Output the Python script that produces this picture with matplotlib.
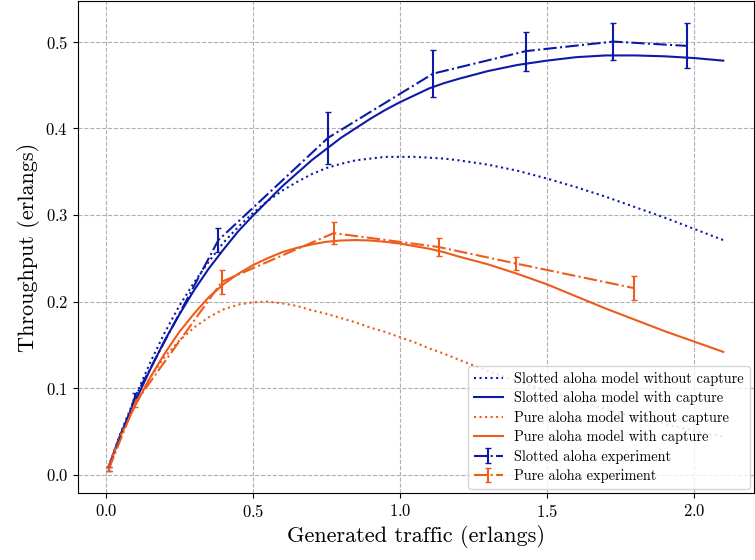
import matplotlib
matplotlib.use("Agg")
import matplotlib.pyplot as plt

plt.rcParams["font.family"] = "serif"
plt.rcParams["font.serif"] = ["cmr10", "DejaVu Serif"]
plt.rcParams["mathtext.fontset"] = "cm"
plt.rcParams["axes.formatter.use_mathtext"] = True

# Model curves
g_model = [0.01, 0.05, 0.1, 0.15, 0.2, 0.25, 0.3, 0.35, 0.4, 0.45, 0.5, 0.55, 0.6,
           0.65, 0.7, 0.75, 0.8, 0.85, 0.9, 0.95, 1.0, 1.05, 1.1, 1.15, 1.2,
           1.3, 1.4, 1.5, 1.6, 1.7, 1.8, 1.9, 2.0, 2.1]
slotted_no_cap = [0.01, 0.048, 0.09, 0.129, 0.164, 0.195, 0.222, 0.246, 0.268, 0.286, 0.302,
                  0.316, 0.328, 0.338, 0.347, 0.354, 0.359, 0.363, 0.365, 0.367, 0.367, 0.367,
                  0.366, 0.365, 0.363, 0.358, 0.351, 0.342, 0.332, 0.321, 0.309, 0.297, 0.284, 0.271]
slotted_cap = [0.01, 0.047, 0.085, 0.121, 0.155, 0.185, 0.213, 0.238, 0.260, 0.281, 0.299,
               0.316, 0.333, 0.348, 0.363, 0.376, 0.389, 0.400, 0.411, 0.421, 0.430, 0.438,
               0.446, 0.452, 0.457, 0.466, 0.473, 0.478, 0.482, 0.484, 0.484, 0.483, 0.481, 0.478]
pure_no_cap = [0.01, 0.045, 0.082, 0.112, 0.136, 0.155, 0.170, 0.182, 0.191, 0.1965, 0.1992,
               0.2, 0.198, 0.195, 0.190, 0.186, 0.181, 0.176, 0.170, 0.165, 0.159, 0.153,
               0.146, 0.14, 0.133, 0.12, 0.108, 0.097, 0.086, 0.076, 0.067, 0.059, 0.051, 0.044]
pure_cap = [0.01, 0.045, 0.08, 0.112, 0.14, 0.165, 0.186, 0.205, 0.220, 0.232, 0.242,
            0.250, 0.257, 0.262, 0.266, 0.269, 0.2705, 0.271, 0.2705, 0.269, 0.267, 0.264,
            0.261, 0.257, 0.252, 0.243, 0.232, 0.220, 0.206, 0.192, 0.179, 0.166, 0.154, 0.142]

# Experiments
g_slotted_exp = [0.01, 0.1, 0.383, 0.756, 1.113, 1.429, 1.726, 1.977]
s_slotted_exp = [0.007, 0.09, 0.271, 0.389, 0.463, 0.489, 0.500, 0.495]
err_slotted_exp = [0.002, 0.004, 0.0135, 0.03, 0.027, 0.0225, 0.021, 0.026]

g_pure_exp = [0.01, 0.1, 0.395, 0.775, 1.132, 1.394, 1.796]
s_pure_exp = [0.007, 0.083, 0.223, 0.279, 0.263, 0.244, 0.2156]
err_pure_exp = [0.002, 0.005, 0.014, 0.013, 0.01, 0.008, 0.014]

blue = "#0d1aa8"
orange = "#ef5b19"

fig = plt.figure(figsize=(7.55, 5.6), dpi=100)
ax = fig.add_axes([78 / 755, 67 / 560, 676 / 755, 492 / 560])

ax.plot(g_model, slotted_no_cap, ":", color=blue, lw=1.5, label="Slotted aloha model without capture")
ax.plot(g_model, slotted_cap, "-", color=blue, lw=1.5, label="Slotted aloha model with capture")
ax.plot(g_model, pure_no_cap, ":", color=orange, lw=1.5, label="Pure aloha model without capture")
ax.plot(g_model, pure_cap, "-", color=orange, lw=1.5, label="Pure aloha model with capture")
ax.errorbar(g_slotted_exp, s_slotted_exp, yerr=err_slotted_exp, fmt="-.", color=blue,
            lw=1.5, capsize=2, label="Slotted aloha experiment")
ax.errorbar(g_pure_exp, s_pure_exp, yerr=err_pure_exp, fmt="-.", color=orange,
            lw=1.5, capsize=2, label="Pure aloha experiment")

ax.grid(True, linestyle="--", color="#b0b0b0", lw=0.8)
ax.set_axisbelow(True)
ax.tick_params(labelsize=12)
ax.set_xlabel("Generated traffic (erlangs)", fontsize=16)
ax.set_ylabel("Throughput (erlangs)", fontsize=16)
ax.legend(loc="lower right", fontsize=10.4, handlelength=2.0, borderaxespad=0.3,
          labelspacing=0.36, borderpad=0.4)

fig.savefig("out.png", dpi=100)
